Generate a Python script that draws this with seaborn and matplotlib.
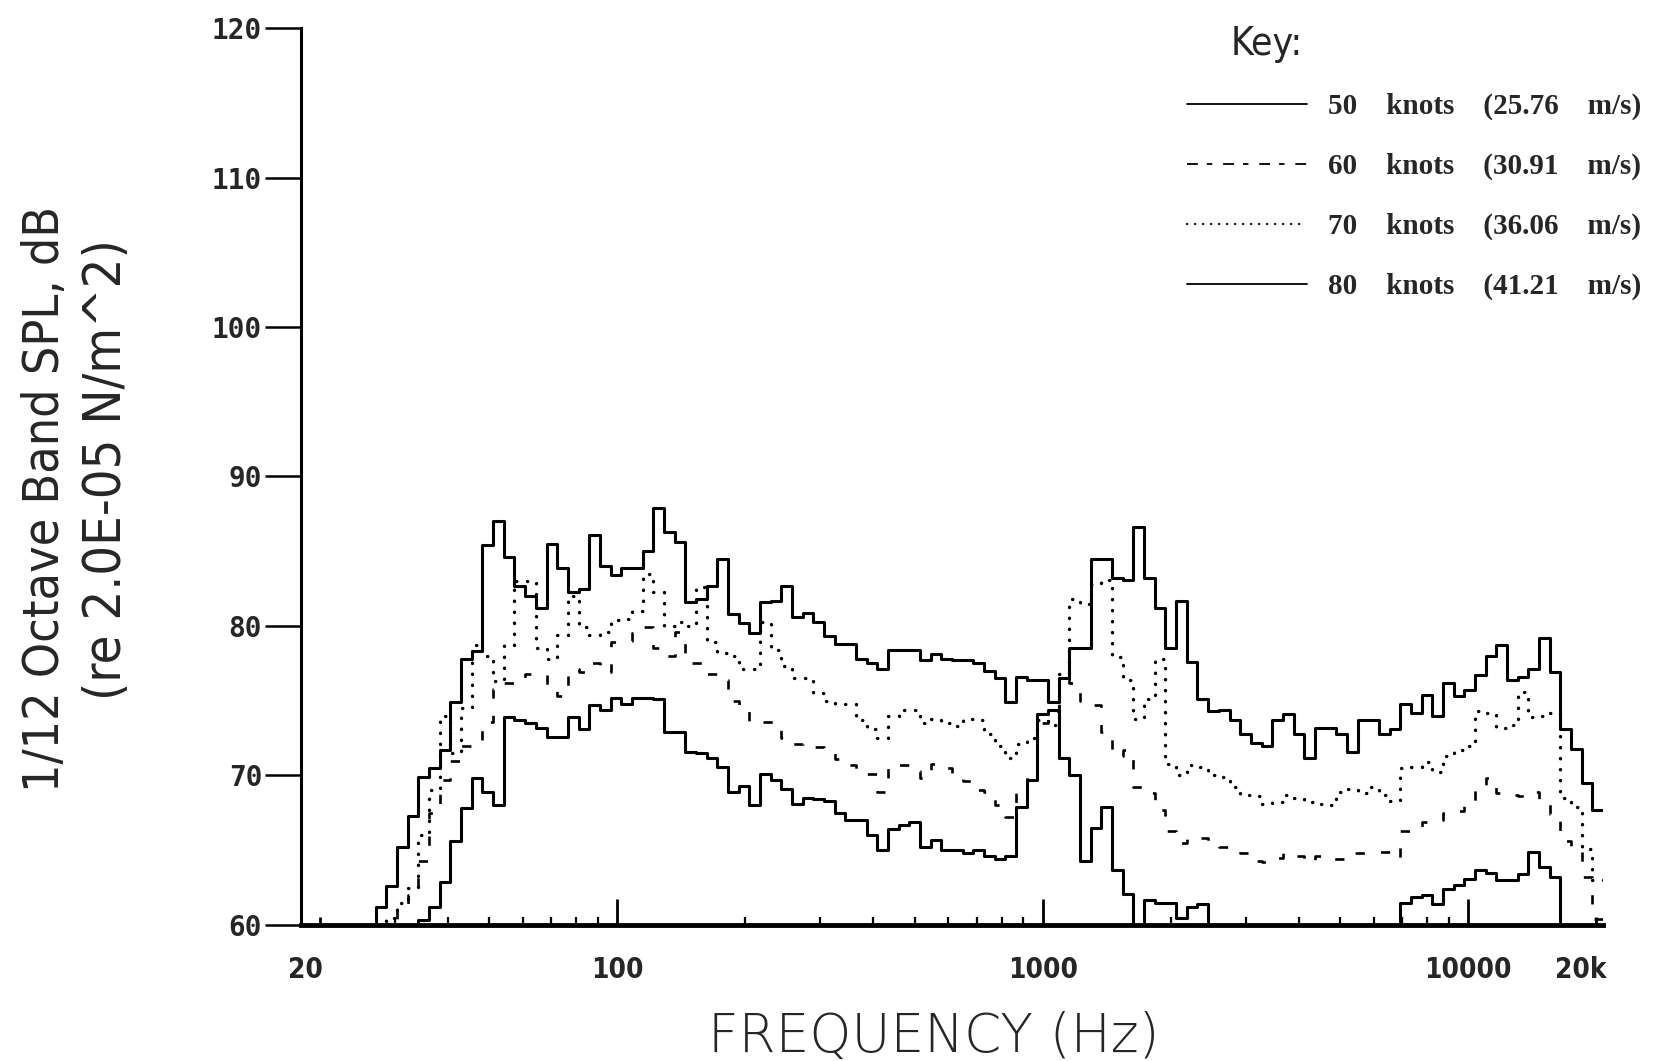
import numpy as np
import pandas as pd
import matplotlib
matplotlib.use("Agg")
import matplotlib.pyplot as plt
import seaborn as sns
from matplotlib.lines import Line2D
from matplotlib.ticker import FixedLocator, NullFormatter
from matplotlib import font_manager as fm
from matplotlib.transforms import ScaledTranslation

# 1/12-octave band index n (band centre = 1000 * 2**(n/12)), bands -64 .. 52
band_first = -64
band_last = 52
axis_band_lo = -69   # first band shown on the axis
axis_band_hi = 52    # last band shown on the axis

# Band levels in dB (58 = below the 60 dB floor of the axis)
spl_80 = [58, 58, 61.2, 62.6, 65.2, 67.3, 69.9, 70.5, 71.7, 74.9,      # -64..-55
          77.8, 78.3, 85.4, 87.0, 84.6, 82.7, 82.0, 81.2, 85.5, 83.9,  # -54..-45
          82.3, 82.5, 86.1, 84.0, 83.4, 83.9, 83.9, 85.0, 87.9, 86.3,  # -44..-35
          85.6, 81.6, 81.8, 82.7, 84.5, 80.8, 80.2, 79.5, 81.6, 81.7,  # -34..-25
          82.7, 80.6, 80.9, 80.3, 79.3, 78.8, 78.8, 77.8, 77.5, 77.1,  # -24..-15
          78.4, 78.4, 78.4, 77.7, 78.1, 77.8, 77.7, 77.7, 77.5, 77.0,  # -14..-5
          76.5, 74.9, 76.6, 76.4, 76.4, 74.9, 76.5, 78.5, 78.5, 84.5,  # -4..5
          84.5, 83.2, 83.1, 86.6, 83.2, 81.2, 78.5, 81.7, 77.6, 75.1,  # 6..15
          74.3, 74.4, 73.7, 72.8, 72.2, 72.0, 73.7, 74.1, 72.8, 71.2,  # 16..25
          73.2, 73.2, 72.8, 71.6, 73.7, 73.7, 72.8, 73.1, 74.8, 74.2,  # 26..35
          75.4, 74.0, 76.2, 75.3, 75.7, 76.7, 78.0, 78.7, 76.4, 76.6,  # 36..45
          77.1, 79.2, 76.9, 73.1, 71.8, 69.5, 67.7]                    # 46..52

spl_70 = [58, 58, 58, 60.5, 61.5, 62.5, 66.0, 69.0, 74.0, 71.5,
          74.5, 78.7, 78.0, 76.3, 78.7, 83.0, 83.0, 78.5, 77.8, 79.4,
          82.0, 79.9, 79.4, 79.6, 80.4, 80.5, 81.0, 83.5, 82.3, 80.0,
          80.3, 80.0, 82.6, 78.9, 78.2, 78.0, 77.1, 77.1, 80.3, 78.4,
          77.3, 76.5, 76.5, 75.5, 75.0, 74.8, 74.8, 73.7, 73.1, 72.5,
          74.0, 74.4, 74.4, 73.5, 73.8, 73.5, 73.3, 73.8, 73.7, 72.8,
          72.0, 71.2, 72.1, 72.5, 73.7, 73.4, 76.8, 81.8, 81.5, 82.8,
          83.1, 77.9, 76.4, 73.8, 75.1, 77.8, 70.8, 70.0, 70.7, 70.6,
          70.0, 69.9, 69.2, 68.7, 68.6, 68.1, 68.2, 68.7, 68.5, 68.2,
          68.1, 68.0, 68.9, 69.1, 68.8, 69.2, 68.7, 68.3, 70.5, 70.6,
          70.9, 70.2, 71.3, 71.7, 72.0, 74.3, 74.2, 73.2, 73.4, 75.6,
          73.9, 74.0, 74.2, 68.5, 67.9, 65.1, 63.0]

spl_60 = [58, 58, 58, 60.2, 61.0, 62.0, 64.3, 67.5, 69.7, 71.0,
          72.0, 72.0, 73.6, 75.8, 76.2, 76.5, 76.8, 76.8, 76.0, 75.3,
          77.1, 76.9, 77.5, 76.9, 78.9, 79.0, 79.5, 79.9, 78.5, 78.0,
          79.6, 77.5, 77.5, 76.8, 76.4, 75.0, 74.4, 73.5, 73.6, 73.6,
          72.5, 72.1, 72.2, 71.9, 71.6, 71.1, 70.7, 70.2, 70.1, 68.9,
          70.8, 70.7, 70.3, 69.8, 70.8, 70.5, 69.8, 69.6, 69.0, 68.9,
          68.0, 67.2, 69.0, 70.0, 73.5, 74.3, 76.8, 76.2, 75.0, 74.7,
          72.9, 71.3, 71.7, 69.2, 68.8, 67.7, 66.3, 65.5, 65.9, 65.8,
          65.5, 65.2, 65.2, 64.8, 64.3, 64.2, 64.5, 64.8, 64.6, 64.2,
          64.6, 64.4, 64.4, 64.8, 64.8, 64.9, 64.9, 64.5, 66.3, 66.5,
          66.9, 67.0, 67.5, 67.6, 68.3, 69.1, 69.8, 68.8, 68.7, 68.6,
          68.9, 68.3, 67.4, 65.6, 65.0, 63.2, 60.4]

spl_50 = [58, 58, 58, 58, 58, 58, 60.3, 61.2, 62.9, 65.6,
          67.8, 69.8, 68.9, 68.0, 73.9, 73.7, 73.5, 73.2, 72.6, 72.6,
          73.9, 73.1, 74.7, 74.4, 75.2, 74.8, 75.2, 75.2, 75.1, 72.9,
          72.9, 71.6, 71.5, 71.2, 70.6, 68.9, 69.3, 68.0, 70.1, 69.7,
          69.1, 68.1, 68.5, 68.4, 68.3, 67.5, 67.0, 67.0, 66.0, 65.0,
          66.4, 66.7, 66.9, 65.2, 65.7, 65.0, 65.0, 64.8, 65.0, 64.6,
          64.4, 64.6, 67.9, 69.7, 74.1, 74.4, 71.2, 70.0, 64.3, 66.5,
          67.9, 63.7, 62.1, 58, 61.7, 61.5, 61.5, 60.5, 61.2, 61.4,
          58, 58, 58, 58, 58, 58, 58, 58, 58, 58,
          58, 58, 58, 58, 58, 58, 58, 58, 61.5, 61.9,
          62.0, 61.4, 62.4, 62.7, 63.1, 63.7, 63.5, 63.0, 63.0, 63.4,
          64.9, 63.9, 63.2, 58, 58, 58, 58]

series_names = ["50 knots", "60 knots", "70 knots", "80 knots"]
series_labels = ["50    knots    (25.76    m/s)",
                 "60    knots    (30.91    m/s)",
                 "70    knots    (36.06    m/s)",
                 "80    knots    (41.21    m/s)"]

x_tick_values = [20, 100, 1000, 10000, 20000]
x_tick_labels = ["20", "100", "1000", "10000", "20k"]
x_minor_values = [30, 40, 50, 60, 70, 80, 90,
                  200, 300, 400, 500, 600, 700, 800, 900,
                  2000, 3000, 4000, 5000, 6000, 7000, 8000, 9000]
y_tick_values = [60, 70, 80, 90, 100, 110, 120]

# ---- build a long table of step edges ----
bands = np.arange(band_first, band_last + 1)
centres = 1000.0 * 2.0 ** (bands / 12.0)
edges = np.append(centres * 2 ** (-1 / 24), centres[-1] * 2 ** (1 / 24))
frames = []
for name, vals in zip(series_names, [spl_50, spl_60, spl_70, spl_80]):
    v = np.asarray(vals, dtype=float)
    frames.append(pd.DataFrame({"freq": edges, "spl": np.append(v, v[-1]), "series": name}))
df = pd.concat(frames, ignore_index=True)

sns.set_theme(style="white")
plt.rcParams["font.family"] = ["DejaVu Sans"]

# pick a narrow sans font if one is installed
narrow = None
for fam, st in [("DejaVu Sans", "condensed"), ("Liberation Sans Narrow", "normal"),
                ("Roboto Condensed", "normal"), ("Open Sans Condensed", "normal")]:
    try:
        p = fm.findfont(fm.FontProperties(family=fam, stretch=st), fallback_to_default=False)
    except Exception:
        continue
    if st == "condensed" and "ondensed" not in p:
        continue
    if fam != "DejaVu Sans" and fam.split()[0].lower() not in p.lower():
        continue
    narrow = (fam, st)
    break
if narrow is None:
    narrow = ("DejaVu Sans", "normal")
narrow_kw = dict(family=[narrow[0], "DejaVu Sans"], fontstretch=narrow[1])

fig = plt.figure(figsize=(16.55, 10.61), dpi=100)
ax = fig.add_axes([0.1819, 0.1282, 0.7867, 0.8454])

styles = {
    "50 knots": dict(linestyle="-", lw=2.2),
    "60 knots": dict(linestyle=(0, (3.5, 6.5)), lw=1.9),
    "70 knots": dict(linestyle=(0, (0.1, 3.2)), lw=2.4, dash_capstyle="round"),
    "80 knots": dict(linestyle="-", lw=2.2),
}
for name in series_names:
    sub = df[df["series"] == name]
    sns.lineplot(data=sub, x="freq", y="spl", ax=ax, color="black",
                 drawstyle="steps-post", estimator=None, sort=False,
                 legend=False, **styles[name])

ax.set_xscale("log")
ax.set_xlim(1000 * 2 ** ((axis_band_lo - 0.5) / 12), 1000 * 2 ** ((axis_band_hi + 0.5) / 12))
ax.set_ylim(60, 120)
ax.set_xlabel("")
ax.set_ylabel("")

for s in ["top", "right"]:
    ax.spines[s].set_visible(False)
ax.spines["left"].set_linewidth(2.2)
ax.spines["bottom"].set_linewidth(3.5)
ax.spines["left"].set_color("black")
ax.spines["bottom"].set_color("black")

ax.set_yticks(y_tick_values)
ax.set_yticklabels([str(v) for v in y_tick_values])
ax.tick_params(axis="y", direction="out", length=26, width=1.8, pad=2,
               labelsize=20, left=True, color="black")
for lab in ax.get_yticklabels():
    lab.set_family(["DejaVu Sans Mono"])
    lab.set_fontweight("bold")

ax.xaxis.set_major_locator(FixedLocator(x_tick_values))
ax.set_xticklabels(x_tick_labels)
ax.xaxis.set_minor_locator(FixedLocator(x_minor_values))
ax.xaxis.set_minor_formatter(NullFormatter())
xlab_size = 17 if narrow[1] == "normal" and narrow[0] == "DejaVu Sans" else 20
ax.tick_params(axis="x", which="major", direction="in", length=19, width=2,
               pad=22, labelsize=xlab_size, bottom=True, color="black")
ax.tick_params(axis="x", which="minor", direction="in", length=6, width=1.6,
               bottom=True, color="black")
xl = ax.get_xticklabels()
for lab in xl:
    lab.set_family(narrow_kw["family"])
    lab.set_fontstretch(narrow[1])
    lab.set_fontweight("bold")
shift = ScaledTranslation(-0.15, 0, fig.dpi_scale_trans)
xl[0].set_transform(xl[0].get_transform() + shift)
xl[-1].set_transform(xl[-1].get_transform() + shift)
mt = ax.xaxis.get_major_ticks()
for i in (0, len(mt) - 1):
    mt[i].tick1line.set_markersize(6)
ax.grid(False)

# axis titles
t1 = fig.text(45 / 1655, 1 - 499 / 1061, "1/12 Octave Band SPL, dB", rotation=90,
              ha="center", va="center", fontsize=40, **narrow_kw)
t2 = fig.text(107 / 1655, 1 - 470 / 1061, "(re 2.0E-05 N/m^2)", rotation=90,
              ha="center", va="center", fontsize=40, **narrow_kw)
t3 = fig.text(934 / 1655, 1 - 1037 / 1061, "FREQUENCY (Hz)", ha="center", va="center",
              fontsize=38, family=["DejaVu Sans"], fontweight="light")

# key
fig.text(1267 / 1655, 1 - 44 / 1061, "Key:", ha="center", va="center", fontsize=28,
         **narrow_kw)
handles = [
    Line2D([], [], color="black", lw=1.3, linestyle="-"),
    Line2D([], [], color="black", lw=1.3, linestyle=(0, (6, 5, 3, 6))),
    Line2D([], [], color="black", lw=1.6, linestyle=(0, (0.1, 3.5)), dash_capstyle="round"),
    Line2D([], [], color="black", lw=1.3, linestyle="-"),
]
fig.legend(handles, series_labels, loc="upper left",
           bbox_to_anchor=(1187 / 1655, 1 - 93 / 1061), frameon=False,
           prop={"family": ["Liberation Serif", "DejaVu Serif"], "weight": "bold", "size": 21},
           handlelength=4.1, handletextpad=0.75, labelspacing=1.12,
           borderpad=0, borderaxespad=0)

# scale the axis titles to the lengths seen in the reference
fig.canvas.draw()
r = fig.canvas.get_renderer()
for t, target, along in [(t1, 586, "h"), (t2, 460, "h"), (t3, 450, "w")]:
    bb = t.get_window_extent(r)
    L = bb.height if along == "h" else bb.width
    t.set_fontsize(t.get_fontsize() * target / L)

fig.savefig("out.png", dpi=100, facecolor="white")
